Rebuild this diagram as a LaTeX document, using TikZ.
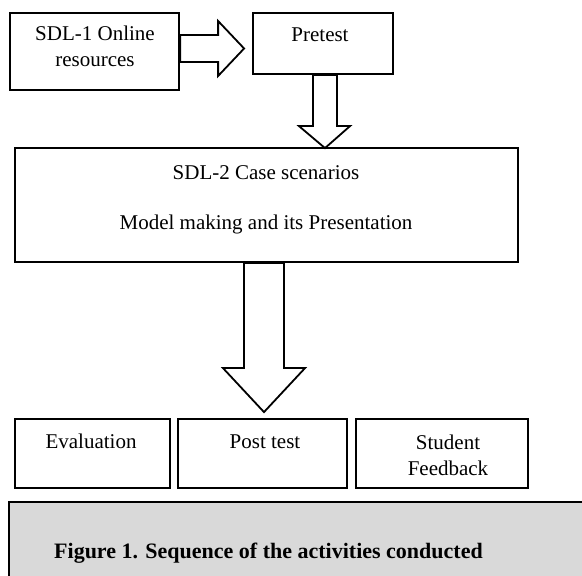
\documentclass[tikz,border=0pt]{standalone}
\usepackage{fontspec}
\setmainfont{Liberation Serif}
\definecolor{gris}{HTML}{D9D9D9}

\begin{document}
\begin{tikzpicture}[x=1pt, y=1pt,
    boite/.style={draw, line width=2.2pt, inner sep=0pt},
    texte/.style={inner sep=0pt, font=\fontsize{21}{26}\selectfont},
    fleche/.style={draw, fill=white, line width=1.8pt, line join=miter}]
    \useasboundingbox (0,0) rectangle (582,576);
    \clip (0,0) rectangle (582,576);

    % Déclaration des boîtes
    \node[boite, minimum width=169pt, minimum height=77pt] (sdl1) at (94.5, 524.5) {};
    \node[boite, minimum width=140pt, minimum height=61pt] (pretest) at (323, 532.5) {};
    \node[boite, minimum width=503pt, minimum height=114pt] (sdl2) at (266.5, 371) {};
    \node[boite, minimum width=155pt, minimum height=69pt] (eval) at (92.5, 122.5) {};
    \node[boite, minimum width=169pt, minimum height=69pt] (post) at (262.5, 122.5) {};
    \node[boite, minimum width=172pt, minimum height=69pt] (feedback) at (442, 122.5) {};
    \node[boite, fill=gris, line width=1.6pt, minimum width=591pt, minimum height=98pt] (legende) at (304.5, 25) {};

    % Textes des boîtes (base = dernière ligne)
    \node[texte, align=center, anchor=base] (sdl1t) at (95, 509) {SDL-1 Online\\resources};
    \node[texte, anchor=base] (pretestt) at (320, 534) {Pretest};
    \node[texte, align=center, anchor=base] (sdl2t) at (266, 346) {SDL-2 Case scenarios\\[24pt]Model making and its Presentation};
    \node[texte, anchor=base] (evalt) at (91, 127) {Evaluation};
    \node[texte, anchor=base] (postt) at (265, 127) {Post test};
    \node[texte, align=center, anchor=base] (feedbackt) at (448, 100) {Student\\Feedback};
    \node[texte, font=\bfseries\fontsize{22}{26}\selectfont, anchor=base west] (legendet) at (54, 17) {Figure 1. Sequence of the activities conducted};

    % Flèches entre les boîtes
    \draw[fleche] ([yshift=16.5pt]sdl1.east) -- ++(38,0) -- ++(0,14) -- ++(26,-27.5) -- ++(-26,-27.5) -- ++(0,14) -- ([yshift=-10.5pt]sdl1.east) -- cycle;
    \draw[fleche] ([xshift=-10pt]pretest.south) -- ++(0,-51) -- ++(-14,0) -- ++(26,-22) -- ++(25,22) -- ++(-13,0) -- ([xshift=14pt]pretest.south) -- cycle;
    \draw[fleche] ([xshift=-22.5pt]sdl2.south) -- ++(0,-105) -- ++(-21,0) -- ++(41,-44) -- ++(41,44) -- ++(-21,0) -- ([xshift=17.5pt]sdl2.south) -- cycle;
\end{tikzpicture}
\end{document}
